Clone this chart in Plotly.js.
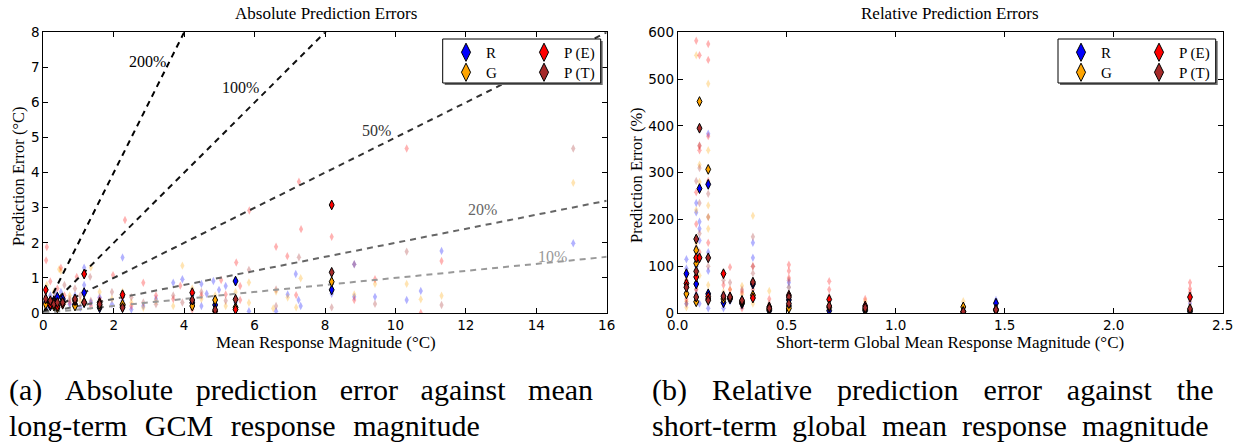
<!DOCTYPE html>
<html><head><meta charset="utf-8">
<script src="https://cdn.plot.ly/plotly-3.0.1.min.js"></script>
<style>html,body{margin:0;padding:0;background:#fff}</style>
</head><body><div id="chart" style="width:1243px;height:443px"></div>
<script>
// ---------- series ----------
const seriesNames = ['R', 'G', 'P (E)', 'P (T)'];
const seriesColors = ['#0000ff', '#ffa500', '#ff0000', '#a52a2a'];

// ---------- (a) absolute errors: faint points ----------
const absR_x = [0.05,0.1,0.2,0.3,0.35,0.4,0.5,0.6,0.75,0.9,1.05,1.16,1.16,1.35,1.6,1.95,2.25,2.25,2.5,2.84,3.2,3.69,3.95,4.23,4.49,4.49,4.64,4.83,4.99,5.18,5.46,5.84,6.61,6.94,7.17,7.25,7.31,8.19,8.83,8.83,9.42,10.32,10.72,11.31,15.05];
const absR_y = [0.3,0.15,0.5,0.4,0.55,0.2,0.6,0.35,0.25,0.5,0.15,1.29,0.8,0.3,0.45,0.25,1.58,0.35,0.1,0.2,0.4,0.86,0.96,0.5,0.83,0.2,0.55,0.91,0.66,0.77,0.3,0.05,0.05,0.53,1.11,0.37,0.2,0.55,0.46,1.39,0.46,0.37,0.63,1.77,1.99];
const absG_x = [0.05,0.1,0.2,0.3,0.45,0.5,0.6,0.75,0.9,1.05,1.35,1.6,1.95,2.25,2.5,2.84,3.2,3.69,3.95,4.23,4.49,4.88,5.18,5.46,5.84,5.84,6.53,6.61,6.94,7.18,7.31,8.83,9.42,10.32,10.72,11.31,15.05];
const absG_y = [0.2,0.8,0.4,0.6,1.25,1.2,0.3,0.5,0.2,0.35,1.3,0.6,0.4,0.6,0.3,0.15,0.35,0.2,1.35,0.7,0.4,0.5,0.2,0.6,0.87,0.29,0.13,0.61,0.44,0.16,0.99,0.53,0.83,0.83,0.39,0.49,3.71];
const absPE_x = [0.1,0.08,0.2,0.3,0.4,0.5,0.6,0.75,0.95,1.16,1.35,1.6,1.98,2.25,2.32,2.5,2.84,3.2,3.69,3.89,4.23,4.49,5.05,5.18,5.48,5.59,5.59,5.85,6.61,6.93,7.18,7.26,7.32,8.19,8.83,9.42,10.32,10.72,11.31];
const absPE_y = [1.88,1.5,0.9,0.4,0.7,1.29,0.5,0.3,1.03,0.6,0.2,0.4,1.08,0.45,2.65,0.2,0.86,0.5,0.4,0.78,0.1,0.5,0.94,0.53,1.44,0.77,0.37,2.92,1.89,1.62,0.51,3.74,2.39,2.17,0.37,0.96,4.69,0.0,1.48];
const absPT_x = [0.05,0.1,0.2,0.3,0.4,0.5,0.6,0.75,0.9,1.05,1.33,1.35,1.6,1.95,2.25,2.5,2.84,3.2,3.69,3.95,4.23,4.49,4.88,5.18,5.84,6.61,6.61,7.26,8.19,8.83,9.42,10.32,11.31,15.05];
const absPT_y = [0.5,0.25,0.3,0.2,0.45,0.3,0.8,0.4,0.7,0.5,1.03,0.35,0.25,0.6,0.2,0.45,0.3,0.25,0.5,0.3,0.25,0.6,0.2,0.35,1.23,0.67,0.2,1.59,0.16,1.39,0.26,1.75,0.23,4.69];

// ---------- (a) highlighted points ----------
const absHighlight_x = [0.07,0.2,0.3,0.4,0.55,0.9,1.16,1.6,2.25,4.23,4.88,5.46,8.19];
const absHighR_y  = [0.3,0.2,0.35,0.45,0.4,0.25,0.58,0.15,0.2,0.29,0.23,0.91,0.66];
const absHighG_y  = [0.25,0.3,0.2,0.15,0.3,0.2,0.3,0.2,0.25,0.2,0.37,0.16,0.89];
const absHighPE_y = [0.66,0.25,0.3,0.2,0.25,0.35,1.11,0.3,0.52,0.58,0.05,0.1,3.08];
const absHighPT_y = [0.4,0.35,0.25,0.3,0.3,0.4,0.3,0.25,0.15,0.37,0.09,0.39,1.16];

// ---------- (a) reference error ratios ----------
const ratioValues = [2, 1, 0.5, 0.2, 0.1];
const ratioLabels = ['200%', '100%', '50%', '20%', '10%'];

// ---------- (b) relative errors: faint points ----------
const relR_x = [0.04,0.04,0.04,0.085,0.085,0.085,0.085,0.1,0.1,0.1,0.1,0.14,0.14,0.14,0.14,0.21,0.21,0.24,0.295,0.345,0.345,0.345,0.42,0.51,0.51,0.695,0.86,1.31,1.46,2.35];
const relR_y = [115,95,20,235,215,100,40,195,180,155,20,383,130,90,10,40,10,25,15,150,118,30,8,65,55,10,8,3,28,20];
const relG_x = [0.04,0.04,0.04,0.085,0.085,0.085,0.085,0.1,0.1,0.1,0.14,0.14,0.14,0.14,0.14,0.14,0.21,0.24,0.295,0.295,0.345,0.345,0.42,0.51,0.51,0.695,0.86,1.31,2.35];
const relG_y = [12,25,70,551,220,150,60,317,280,80,490,348,230,205,180,60,45,50,58,40,208,20,47,55,20,20,25,25,15];
const relPE_x = [0.04,0.04,0.085,0.085,0.085,0.085,0.1,0.1,0.1,0.1,0.14,0.14,0.14,0.14,0.14,0.21,0.21,0.24,0.24,0.295,0.295,0.345,0.345,0.42,0.42,0.51,0.51,0.51,0.695,0.695,0.86,2.35,2.35,2.35];
const relPE_y = [70,30,582,258,190,50,551,357,348,130,575,541,378,282,150,60,20,98,50,45,10,100,50,30,5,103,90,75,68,50,30,65,52,44];
const relPT_x = [0.04,0.04,0.085,0.085,0.085,0.1,0.1,0.1,0.1,0.14,0.14,0.14,0.21,0.24,0.295,0.345,0.345,0.345,0.42,0.51,0.695,1.31,2.35];
const relPT_y = [60,20,282,140,50,358,310,235,170,255,205,100,70,65,50,163,100,85,20,70,35,15,25];

// ---------- (b) highlighted points ----------
const relHighR_x  = [0.04,0.085,0.1,0.14,0.14,0.21,0.24,0.295,0.345,0.42,0.51,0.51,0.695,0.86,1.31,1.46,2.35];
const relHighR_y  = [84,62,266,275,41,22,30,20,62,5,15,28,5,5,2,21,3];
const relHighG_x  = [0.04,0.085,0.085,0.085,0.1,0.14,0.14,0.21,0.24,0.295,0.345,0.42,0.51,0.695,0.86,1.31,1.46,2.35];
const relHighG_y  = [41,134,106,24,452,307,30,30,32,22,38,8,10,12,8,13,5,6];
const relHighPE_x = [0.04,0.085,0.085,0.1,0.14,0.21,0.24,0.295,0.345,0.42,0.51,0.695,0.86,1.31,1.46,2.35];
const relHighPE_y = [63,118,77,118,35,84,34,25,32,13,38,29,15,3,8,34];
const relHighPT_x = [0.04,0.085,0.085,0.085,0.1,0.14,0.14,0.21,0.24,0.295,0.345,0.42,0.51,0.51,0.695,0.86,1.31,1.46,2.35];
const relHighPT_y = [55,158,89,34,395,118,27,36,34,27,66,10,34,20,15,11,3,7,9];

// ---------- text ----------
const titleA = 'Absolute Prediction Errors';
const titleB = 'Relative Prediction Errors';
const xTitleA = 'Mean Response Magnitude (°C)';
const yTitleA = 'Prediction Error (°C)';
const xTitleB = 'Short-term Global Mean Response Magnitude (°C)';
const yTitleB = 'Prediction Error (%)';
const captionA = ['(a) Absolute prediction error against mean', 'long-term GCM response magnitude'];
const captionB = ['(b) Relative prediction error against the', 'short-term global mean response magnitude'];

// ---------- build ----------
const W = 1243, H = 443;
const px = v => v / W, py = v => 1 - v / H;
const SERIF = '"Liberation Serif", "Times New Roman", serif';
const SANS = '"DejaVu Sans", sans-serif';

const faintA = [[absR_x, absR_y], [absG_x, absG_y], [absPE_x, absPE_y], [absPT_x, absPT_y]];
const highA = [absHighR_y, absHighG_y, absHighPE_y, absHighPT_y];
const faintB = [[relR_x, relR_y], [relG_x, relG_y], [relPE_x, relPE_y], [relPT_x, relPT_y]];
const highB = [[relHighR_x, relHighR_y], [relHighG_x, relHighG_y], [relHighPE_x, relHighPE_y], [relHighPT_x, relHighPT_y]];

const traces = [];
const ratioColors = ['#000000', '#111111', '#333333', '#666666', '#999999'];
const xMaxA = 16;

faintA.forEach((d, i) => traces.push({
  type: 'scatter', mode: 'markers', x: d[0], y: d[1], xaxis: 'x', yaxis: 'y',
  marker: {symbol: 'diamond-tall', size: 6, color: seriesColors[i], opacity: 0.3, line: {width: 0}},
  showlegend: false, hoverinfo: 'skip'
}));
faintB.forEach((d, i) => traces.push({
  type: 'scatter', mode: 'markers', x: d[0], y: d[1], xaxis: 'x2', yaxis: 'y2',
  marker: {symbol: 'diamond-tall', size: 6, color: seriesColors[i], opacity: 0.3, line: {width: 0}},
  showlegend: false, hoverinfo: 'skip'
}));
ratioValues.forEach((k, j) => traces.push({
  type: 'scatter', mode: 'lines', x: [0, xMaxA], y: [0, k * xMaxA], xaxis: 'x', yaxis: 'y',
  line: {color: ratioColors[j], width: 2, dash: '6px,5px'}, showlegend: false, hoverinfo: 'skip'
}));
highA.forEach((yv, i) => traces.push({
  type: 'scatter', mode: 'markers', x: absHighlight_x, y: yv, xaxis: 'x', yaxis: 'y',
  marker: {symbol: 'diamond-tall', size: 7, color: seriesColors[i], line: {width: 1, color: '#000'}},
  showlegend: false, hoverinfo: 'skip'
}));
highB.forEach((d, i) => traces.push({
  type: 'scatter', mode: 'markers', x: d[0], y: d[1], xaxis: 'x2', yaxis: 'y2',
  marker: {symbol: 'diamond-tall', size: 7, color: seriesColors[i], line: {width: 1, color: '#000'}},
  showlegend: false, hoverinfo: 'skip'
}));

// legend entries: one small legend per entry, arranged in 2 columns x 2 rows per panel
const legendCommon = {
  bgcolor: 'rgba(0,0,0,0)', borderwidth: 0, xanchor: 'left', yanchor: 'top',
  font: {family: SERIF, size: 15, color: '#000'}, itemsizing: 'trace', orientation: 'v',
  tracegroupgap: 0
};
const legendColX = [[446, 524], [1061, 1139]];
const legendRowTop = [36, 56];
const legendLayouts = {};
let legendCount = 0;
[0, 1].forEach(p => {
  seriesNames.forEach((name, i) => {
    legendCount += 1;
    const id = legendCount === 1 ? 'legend' : 'legend' + legendCount;
    const col = i < 2 ? 0 : 1, row = i % 2;
    legendLayouts[id] = Object.assign({}, legendCommon, {x: px(legendColX[p][col]), y: py(legendRowTop[row])});
    traces.push({
      type: 'scatter', mode: 'markers', x: [null], y: [null],
      xaxis: p ? 'x2' : 'x', yaxis: p ? 'y2' : 'y',
      name: name, legend: id,
      marker: {symbol: 'diamond-tall', size: 13, color: seriesColors[i], line: {width: 1, color: '#000'}},
      showlegend: true
    });
  });
});

const axisCommon = {
  showgrid: false, zeroline: false, showline: true, linecolor: '#000', linewidth: 1,
  mirror: 'allticks', ticks: 'inside', ticklen: 5, tickwidth: 1, tickcolor: '#000',
  tickfont: {family: SANS, size: 13.5, color: '#000'}, fixedrange: true
};
const domYTop = 32.3, domYBot = 313;

const annotations = [];
const ann = (text, x, y, opts) => annotations.push(Object.assign({
  text: text, x: x, y: y, xref: 'paper', yref: 'paper', showarrow: false,
  font: {family: SERIF, size: 17, color: '#000'}
}, opts || {}));

// justify a caption line to a given pixel width using non-breaking + hair spaces
const capSize = 30;
const capFontCss = capSize + 'px "Liberation Serif"';
const measureCtx = document.createElement('canvas').getContext('2d');
function justifyLine(line, targetW) {
  measureCtx.font = capFontCss;
  const words = line.split(' ');
  const wordsW = words.reduce((s, w) => s + measureCtx.measureText(w).width, 0);
  const nbW = measureCtx.measureText('\u00a0').width || 7.5;
  const hairW = measureCtx.measureText('\u200a').width;
  const gap = (targetW - wordsW) / (words.length - 1);
  let n = Math.max(1, Math.floor(gap / nbW));
  let h = 0;
  if (hairW > 0.5) h = Math.max(0, Math.round((gap - n * nbW) / hairW));
  else n = Math.max(1, Math.round(gap / nbW));
  return words.join('\u00a0'.repeat(n) + '\u200a'.repeat(h));
}

ann(titleA, px(326), py(14), {xanchor: 'center', yanchor: 'middle'});
ann(titleB, px(950), py(14), {xanchor: 'center', yanchor: 'middle'});
ann(xTitleA, px(326), py(342), {xanchor: 'center', yanchor: 'middle', font: {family: SERIF, size: 17, color: '#000'}});
ann(xTitleB, px(950), py(342), {xanchor: 'center', yanchor: 'middle', font: {family: SERIF, size: 17, color: '#000'}});
ann(yTitleA, px(18), py(177), {xanchor: 'center', yanchor: 'middle', textangle: -90, font: {family: SERIF, size: 16.5, color: '#000'}});
ann(yTitleB, px(636), py(175), {xanchor: 'center', yanchor: 'middle', textangle: -90, font: {family: SERIF, size: 16.5, color: '#000'}});
const capFont = {family: SERIF, size: capSize, color: '#000'};
ann(justifyLine(captionA[0], 580), px(7), py(390), {xanchor: 'left', yanchor: 'middle', font: capFont});
ann(justifyLine(captionA[1], 470), px(7), py(425), {xanchor: 'left', yanchor: 'middle', font: capFont});
ann(justifyLine(captionB[0], 557), px(650), py(390), {xanchor: 'left', yanchor: 'middle', font: capFont});
ann(justifyLine(captionB[1], 557), px(650), py(425), {xanchor: 'left', yanchor: 'middle', font: capFont});
const ratioLabelPos = [[2.97, 7.18], [5.59, 6.44], [9.47, 5.19], [12.46, 2.96], [14.47, 1.62]];
ratioLabels.forEach((t, j) => annotations.push({
  text: t, x: ratioLabelPos[j][0], y: ratioLabelPos[j][1], xref: 'x', yref: 'y', showarrow: false,
  xanchor: 'center', yanchor: 'middle', font: {family: SERIF, size: 16, color: ratioColors[j]}
}));

// legend frames with a slight drop shadow
const legendBoxes = [[442.7, 39, 600.7, 83], [1058, 39, 1215.7, 83]];
const shapes = [];
legendBoxes.forEach(b => {
  shapes.push({type: 'rect', xref: 'paper', yref: 'paper', x0: px(b[0] + 2), x1: px(b[2] + 2), y0: py(b[1] + 2), y1: py(b[3] + 2),
    line: {width: 0}, fillcolor: '#6e6e6e', layer: 'above'});
  shapes.push({type: 'rect', xref: 'paper', yref: 'paper', x0: px(b[0]), x1: px(b[2]), y0: py(b[1]), y1: py(b[3]),
    line: {color: '#000', width: 1}, fillcolor: '#ffffff', layer: 'above'});
});

const layout = Object.assign({
  width: W, height: H, autosize: false,
  margin: {l: 0, r: 0, t: 0, b: 0},
  paper_bgcolor: '#fff', plot_bgcolor: '#fff',
  xaxis: Object.assign({}, axisCommon, {domain: [px(43.3), px(606.7)], range: [0, 16], dtick: 2, anchor: 'y'}),
  yaxis: Object.assign({}, axisCommon, {domain: [py(domYBot), py(domYTop)], range: [0, 8], dtick: 1, anchor: 'x'}),
  xaxis2: Object.assign({}, axisCommon, {domain: [px(677.7), px(1222.7)], range: [0, 2.5], dtick: 0.5, tickformat: '.1f', anchor: 'y2'}),
  yaxis2: Object.assign({}, axisCommon, {domain: [py(domYBot), py(domYTop)], range: [0, 600], dtick: 100, anchor: 'x2'}),
  annotations: annotations,
  shapes: shapes
}, legendLayouts);

Plotly.newPlot('chart', traces, layout, {displayModeBar: false, staticPlot: true});
</script>
</body></html>
